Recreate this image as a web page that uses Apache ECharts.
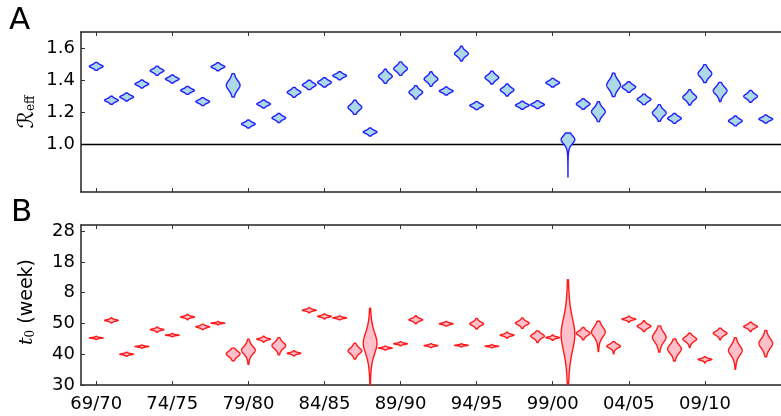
<!DOCTYPE html>
<html><head><meta charset="utf-8">
<script src="https://cdn.jsdelivr.net/npm/echarts@6/dist/echarts.min.js"></script>
<style>html,body{margin:0;padding:0;background:#fff}#c{width:781px;height:416px}</style>
</head><body><div id="c"></div><script>
// Seasons (category index 0 = 69/70)
const seasons = ['69/70','70/71','71/72','72/73','73/74','74/75','75/76','76/77','77/78','78/79',
  '79/80','80/81','81/82','82/83','83/84','84/85','85/86','86/87','87/88','88/89',
  '89/90','90/91','91/92','92/93','93/94','94/95','95/96','96/97','97/98','98/99',
  '99/00','00/01','01/02','02/03','03/04','04/05','05/06','06/07','07/08','08/09',
  '09/10','10/11','11/12','12/13','13/14'];
const seasonTickIdx = [0,5,10,15,20,25,30,35,40];

// Panel A: effective reproduction number (mode, spread, lower/upper extent)
const reffMid = [1.485,1.273,1.294,1.375,1.458,1.406,1.335,1.265,1.483,1.367,
  1.125,1.250,1.163,1.323,1.369,1.385,1.427,1.229,1.075,1.423,
  1.471,1.323,1.406,1.331,1.565,1.240,1.415,1.338,1.242,1.246,
  1.383,1.027,1.250,1.202,1.369,1.356,1.279,1.194,1.160,1.292,
  1.440,1.333,1.144,1.298,1.156];
const reffSd = [0.0076,0.0076,0.0076,0.0076,0.0085,0.0076,0.0076,0.0076,0.0076,0.0236,
  0.0076,0.0076,0.0085,0.0095,0.0095,0.0095,0.0076,0.0142,0.0076,0.0132,
  0.0132,0.0123,0.0132,0.0076,0.0132,0.0076,0.0123,0.0113,0.0076,0.0076,
  0.0085,0.0200,0.0104,0.0190,0.0236,0.0104,0.0104,0.0160,0.0095,0.0142,
  0.0180,0.0180,0.0095,0.0113,0.0076];
const reffLo = [1.460,1.248,1.269,1.350,1.429,1.381,1.310,1.240,1.458,1.294,
  1.100,1.225,1.134,1.292,1.340,1.356,1.402,1.185,1.050,1.379,
  1.429,1.281,1.360,1.306,1.519,1.215,1.375,1.300,1.217,1.221,
  1.356,0.794,1.217,1.140,1.296,1.323,1.246,1.142,1.129,1.244,
  1.384,1.265,1.113,1.261,1.131];
const reffHi = [1.510,1.298,1.319,1.400,1.487,1.431,1.360,1.290,1.508,1.440,
  1.150,1.275,1.191,1.354,1.398,1.414,1.452,1.273,1.100,1.467,
  1.513,1.365,1.452,1.356,1.611,1.265,1.455,1.375,1.267,1.271,
  1.410,1.069,1.283,1.264,1.442,1.389,1.312,1.246,1.191,1.340,
  1.496,1.385,1.175,1.335,1.181];

// Panel B: epidemic onset t0 in weeks (continuous, >52 wraps into next year)
const t0Mid = [45.3,51.0,40.0,42.5,48.0,46.2,52.1,48.9,50.1,40.1,
  41.3,44.9,42.8,40.3,54.3,52.3,51.8,41.1,43.6,42.0,
  43.4,51.2,42.8,49.9,42.9,49.9,42.6,46.2,50.1,45.9,
  45.4,46.4,46.8,47.2,42.6,51.4,49.1,45.5,41.7,44.9,
  38.3,46.8,41.2,49.0,43.5];
const t0Sd = [0.11,0.19,0.15,0.11,0.19,0.11,0.19,0.22,0.11,0.69,
  0.99,0.22,0.79,0.19,0.19,0.19,0.15,0.74,2.70,0.15,
  0.15,0.32,0.15,0.19,0.11,0.45,0.11,0.22,0.45,0.54,
  0.19,4.20,0.55,1.24,0.45,0.22,0.45,1.24,1.09,0.60,
  0.22,0.50,1.24,0.40,1.24];
const t0Lo = [44.76,50.13,39.35,41.96,47.13,45.66,51.23,48.03,49.56,37.9,
  36.7,43.9,39.8,39.43,53.43,51.43,51.15,38.4,30.0,41.35,
  42.75,49.9,42.15,49.14,42.36,48.2,42.06,45.2,48.4,43.8,
  44.5,30.3,44.7,40.9,40.1,50.4,47.4,40.7,37.8,42.2,
  37.1,44.7,35.1,47.4,39.2];
const t0Hi = [45.84,51.87,40.65,43.04,48.87,46.74,52.97,49.77,50.64,42.0,
  44.9,45.9,45.4,41.17,55.17,53.17,52.45,43.6,55.0,42.65,
  44.05,52.5,43.45,50.66,43.44,51.6,43.14,47.2,51.8,47.6,
  46.3,64.2,48.7,50.7,44.1,52.4,50.9,49.2,45.0,46.8,
  39.2,48.5,45.4,50.4,47.7];

const reffTicks = [1.0,1.2,1.4,1.6];
const weekTickValues = [30,40,50,60,70,80];
const weekTickLabels = ['30','40','50','8','18','28'];

const HALF = 0.45;   // max half-width in category units
const BODY = 1.5;    // kernel body scale
function violinRender(fill, stroke){
  return function(params, api){
    const i = api.value(0), mid = api.value(1), sd = api.value(2)*BODY, lo = api.value(3), hi = api.value(4);
    const N = 160; const ys = [];
    for (let k=0;k<=N;k++) ys.push(lo + (hi-lo)*k/N);
    ys.push(mid); ys.sort((a,b)=>a-b);
    const right = [], left = [];
    ys.forEach(y=>{
      const z = (y-mid)/sd; const w = HALF*Math.pow(1+z*z/3,-2);
      right.push(api.coord([i+w,y])); left.push(api.coord([i-w,y]));
    });
    return {type:'polygon', shape:{points:right.concat(left.reverse())},
      style:{fill:fill, stroke:stroke, lineWidth:1.4, lineJoin:'round'}};
  };
}
const reffData = reffMid.map((m,i)=>[i,m,reffSd[i],reffLo[i],reffHi[i]]);
const t0Data = t0Mid.map((m,i)=>[i,m,t0Sd[i],t0Lo[i],t0Hi[i]]);

const FONT = 'DejaVu Sans';
const frame = {show:true, onZero:false, lineStyle:{color:'#222', width:1.5}};
const tick = {show:true, inside:true, length:4, lineStyle:{color:'#333', width:1}, customValues:seasonTickIdx};
function xAx(grid, pos, labels){
  return {type:'value', gridIndex:grid, position:pos, min:-1, max:45, axisLine:frame,
    axisTick:tick, splitLine:{show:false},
    axisLabel:{show:labels, customValues:seasonTickIdx, formatter:v=>seasons[v], fontSize:18,
      color:'#000', fontFamily:FONT, margin:10}};
}
const chart = echarts.init(document.getElementById('c'), null, {renderer:'canvas'});
chart.setOption({
  animation:false,
  grid:[{left:81, top:32, width:708, height:160},{left:81, top:225, width:708, height:160}],
  xAxis:[xAx(0,'bottom',false), xAx(0,'top',false), xAx(1,'bottom',true), xAx(1,'top',false)],
  yAxis:[
    {type:'value', gridIndex:0, min:0.7, max:1.7, axisLine:frame, splitLine:{show:false},
     axisTick:{show:true, inside:true, length:4, lineStyle:{color:'#333'}, customValues:reffTicks},
     axisLabel:{customValues:reffTicks, formatter:v=>v.toFixed(1), fontSize:18, color:'#000', fontFamily:FONT, margin:6}},
    {type:'value', gridIndex:1, min:30, max:82, axisLine:frame, splitLine:{show:false},
     axisTick:{show:true, inside:true, length:4, lineStyle:{color:'#333'}, customValues:weekTickValues},
     axisLabel:{customValues:weekTickValues, formatter:v=>weekTickLabels[weekTickValues.indexOf(v)], fontSize:18, color:'#000', fontFamily:FONT, margin:6}}
  ],
  series:[
    {type:'custom', xAxisIndex:0, yAxisIndex:0, data:reffData, encode:{x:0,y:1},
     renderItem:violinRender('#add8e6','#1f1fff'), z:3,
     markLine:{silent:true, symbol:'none', label:{show:false}, lineStyle:{color:'#000', width:1.3, type:'solid'}, data:[{yAxis:1.0}], z:2}},
    {type:'custom', xAxisIndex:2, yAxisIndex:1, data:t0Data, encode:{x:0,y:1},
     renderItem:violinRender('#ffc0cb','#ff1a1a'), z:3}
  ],
  graphic:[
    {type:'text', left:9, top:5, style:{text:'A', fontSize:31, fontFamily:FONT, fill:'#000'}},
    {type:'text', left:11, top:197, style:{text:'B', fontSize:31, fontFamily:FONT, fill:'#000'}},
    {type:'text', x:27, y:112, rotation:Math.PI/2,
     style:{text:'{r|ℛ}{s|eff}', align:'center', verticalAlign:'middle',
       rich:{r:{fontSize:22, fontFamily:'DejaVu Sans', fill:'#000'},
             s:{fontSize:12, fontFamily:'DejaVu Serif', fill:'#000', padding:[8,0,0,0]}}}},
    {type:'text', x:27, y:302, rotation:Math.PI/2,
     style:{text:'{t|t}{s|0}{w| (week)}', align:'center', verticalAlign:'middle',
       rich:{t:{fontSize:19, fontFamily:'DejaVu Serif', fontStyle:'italic', fill:'#000'},
             s:{fontSize:12, fontFamily:'DejaVu Serif', fill:'#000', padding:[8,0,0,0]},
             w:{fontSize:19, fontFamily:FONT, fill:'#000'}}}}
  ]
});
</script></body></html>
